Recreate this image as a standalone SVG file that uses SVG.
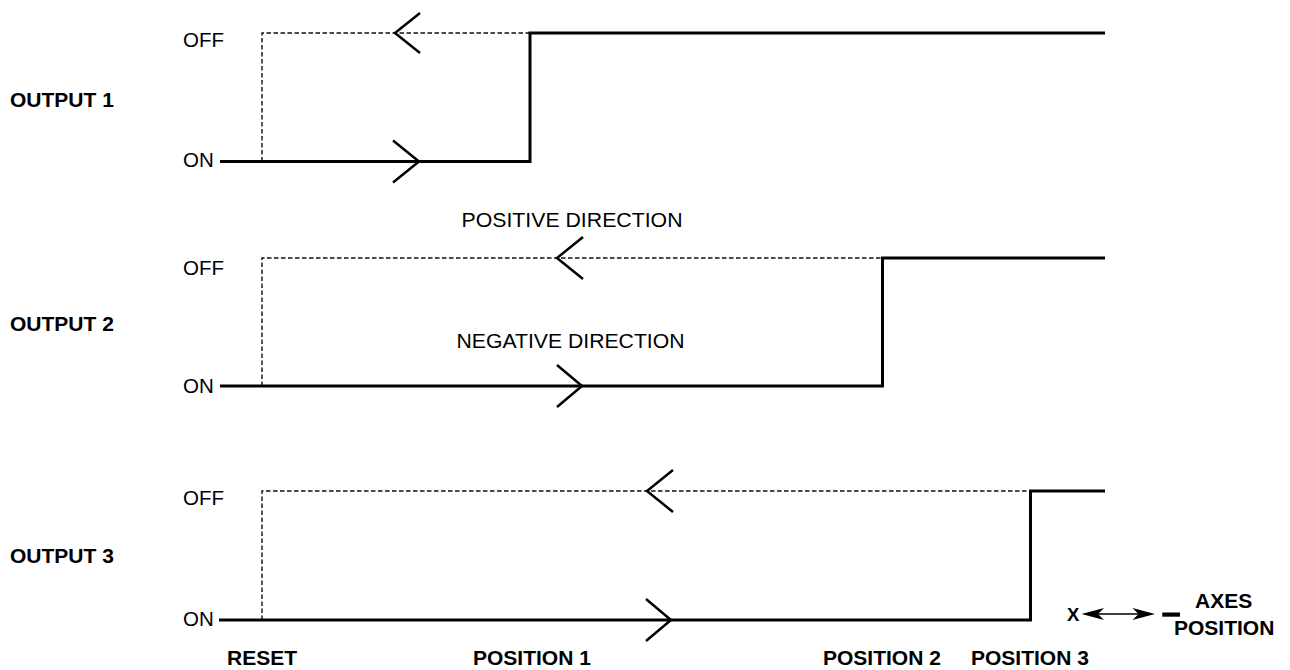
<svg xmlns="http://www.w3.org/2000/svg" width="1290" height="670" viewBox="0 0 1290 670">
<defs>
<style>
.t{font-family:"Liberation Sans",Arial,sans-serif;font-size:20.5px;fill:#000}
.b{font-family:"Liberation Sans",Arial,sans-serif;font-size:21px;font-weight:bold;fill:#000}
.s{fill:none;stroke:#000;stroke-width:3;stroke-linejoin:miter;stroke-linecap:butt}
.d{fill:none;stroke:#111;stroke-width:1.4;stroke-dasharray:4.5,2.5}
.c{fill:none;stroke:#000;stroke-width:2.5;stroke-linecap:butt}
</style>
</defs>
<rect width="1290" height="670" fill="#fff"/>
<g id="labels">
<text class="b" x="10" y="106.5">OUTPUT 1</text>
<text class="b" x="10" y="331">OUTPUT 2</text>
<text class="b" x="10" y="563">OUTPUT 3</text>
<text class="t" x="183" y="47">OFF</text>
<text class="t" x="183" y="167">ON</text>
<text class="t" x="183" y="275">OFF</text>
<text class="t" x="183" y="393">ON</text>
<text class="t" x="183" y="505">OFF</text>
<text class="t" x="183" y="626">ON</text>
<text class="t" x="461.5" y="227" textLength="221" lengthAdjust="spacingAndGlyphs">POSITIVE DIRECTION</text>
<text class="t" x="456.5" y="347.5" textLength="228" lengthAdjust="spacingAndGlyphs">NEGATIVE DIRECTION</text>
<text class="b" x="227" y="665">RESET</text>
<text class="b" x="473" y="665">POSITION 1</text>
<text class="b" x="823" y="665">POSITION 2</text>
<text class="b" x="971" y="665">POSITION 3</text>
</g>
<g id="output1">
<path class="d" d="M262,161.5 V33 H530"/>
<path class="s" d="M220,161.5 H530 V33 H1105"/>
</g>
<g id="output2">
<path class="d" d="M262,386 V258 H882.5"/>
<path class="s" d="M220,386 H882.5 V258 H1105"/>
</g>
<g id="output3">
<path class="d" d="M262,620 V491 H1030.5"/>
<path class="s" d="M219,620 H1030.5 V491 H1105"/>
</g>
<g id="connectors">
<path class="c" d="M420,13 L395,33 L420,53"/>
<path class="c" d="M393,140.5 L419,161.5 L393,182.5"/>
<path class="c" d="M583,237 L557,258 L583,279"/>
<path class="c" d="M557,365 L582,386 L557,407"/>
<path class="c" d="M673,470 L647,491 L673,512"/>
<path class="c" d="M646,599 L671,620 L646,641"/>
</g>
<g id="axes">
<text class="b" x="1067" y="620.5" style="font-size:18.5px">X</text>
<line x1="1095" y1="614" x2="1140" y2="614" stroke="#000" stroke-width="1.5"/>
<path d="M1081.5,614 L1104,608 L1098,614 L1104,620 Z" fill="#000"/>
<path d="M1155,614 L1132.5,608 L1138.5,614 L1132.5,620 Z" fill="#000"/>
<rect x="1162.3" y="612.5" width="17.7" height="4.2" fill="#000"/>
<text class="b" x="1195" y="607.5">AXES</text>
<text class="b" x="1174" y="635">POSITION</text>
</g>
</svg>
